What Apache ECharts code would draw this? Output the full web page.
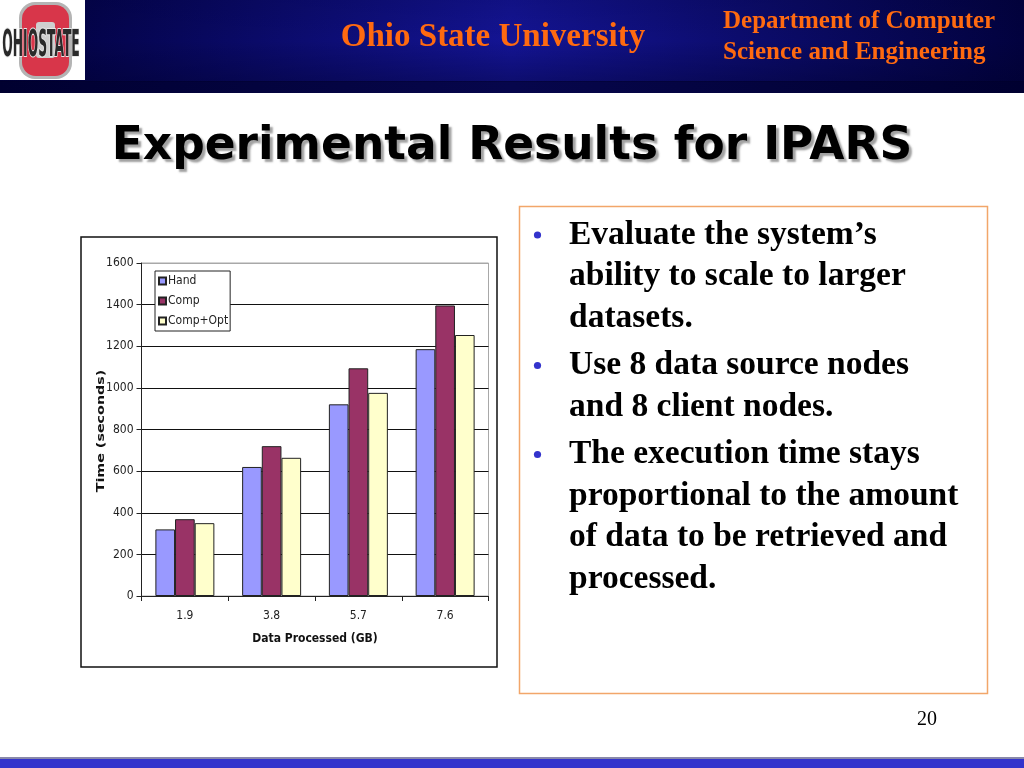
<!DOCTYPE html>
<html>
<head>
<meta charset="utf-8">
<script src="https://cdn.jsdelivr.net/npm/echarts@6/dist/echarts.min.js"></script>
<style>
html,body{margin:0;padding:0;background:#fff;}
#c{width:1024px;height:768px;}
</style>
</head>
<body>
<div id="c"></div>
<script>
// ---- data ----
var categories = ['1.9', '3.8', '5.7', '7.6'];
var seriesNames = ['Hand', 'Comp', 'Comp+Opt'];
var handValues = [320, 620, 921, 1186];
var compValues = [369, 720, 1094, 1396];
var compOptValues = [350, 664, 976, 1254];
var yTicks = { min: 0, max: 1600, interval: 200 };
var headerTitle = 'Ohio State University';
var deptLines = ['Department of Computer', 'Science and Engineering'];
var slideTitle = 'Experimental Results for IPARS';
var yAxisTitle = 'Time (seconds)';
var xAxisTitle = 'Data Processed (GB)';
var bulletLines = [
  ['Evaluate the system\u2019s', 'ability to scale to larger', 'datasets.'],
  ['Use 8 data source nodes', 'and 8 client nodes.'],
  ['The execution time stays', 'proportional to the amount', 'of data to be retrieved and', 'processed.']
];
var pageNumber = '20';

var chart = echarts.init(document.getElementById('c'));
var axisFont = '"Liberation Sans Narrow","DejaVu Sans Condensed",sans-serif';
var serif = '"Liberation Serif","Times New Roman",serif';

// build bullet text graphics
var bulletGraphics = [];
var lineY = 235, lineStep = 41.5, bulletStep = 47.5;
bulletLines.forEach(function (group) {
  bulletGraphics.push({
    type: 'circle', shape: { cx: 537.5, cy: lineY, r: 3.6 }, style: { fill: '#3333CC' }
  });
  group.forEach(function (line, li) {
    bulletGraphics.push({
      type: 'text', x: 569, y: lineY,
      style: { text: line, fill: '#000', font: 'bold 33.5px ' + serif, textVerticalAlign: 'middle' }
    });
    lineY += (li === group.length - 1) ? bulletStep : lineStep;
  });
});

var option = {
  animation: false,
  backgroundColor: '#fff',
  graphic: [
    // header band
    { type: 'rect', shape: { x: 0, y: 0, width: 1024, height: 82 }, z: -10,
      style: { fill: new echarts.graphic.LinearGradient(0, 0, 1, 0, [
        { offset: 0, color: '#00003c' }, { offset: 0.5, color: '#141494' }, { offset: 1, color: '#02023e' }]) } },
    { type: 'rect', shape: { x: 0, y: 0, width: 1024, height: 82 }, z: -9,
      style: { fill: new echarts.graphic.LinearGradient(0, 0, 0, 1, [
        { offset: 0, color: 'rgba(0,0,40,0.15)' }, { offset: 0.5, color: 'rgba(0,0,40,0)' }, { offset: 1, color: 'rgba(0,0,40,0.35)' }]) } },
    { type: 'rect', shape: { x: 0, y: 81, width: 1024, height: 12 }, z: -10,
      style: { fill: new echarts.graphic.LinearGradient(0, 0, 1, 0, [
        { offset: 0, color: '#000030' }, { offset: 0.5, color: '#06064c' }, { offset: 1, color: '#000030' }]) } },
    // logo
    { type: 'rect', shape: { x: 0, y: 0, width: 85, height: 80 }, style: { fill: '#ffffff' } },
    { type: 'rect', shape: { x: 19, y: 2, width: 53, height: 77, r: 16 }, style: { fill: '#b4b4b4' } },
    { type: 'rect', shape: { x: 22, y: 5, width: 47, height: 71, r: 14 }, style: { fill: '#d8364a' } },
    { type: 'rect', shape: { x: 36, y: 22, width: 19, height: 36, r: 3 }, style: { fill: '#cfcfcf' } },
    { type: 'group', x: 41, y: 47, scaleX: 0.98, scaleY: 2.6,
      children: [{ type: 'text', x: 0, y: 0, style: { text: 'OHIOSTATE', fill: '#2a2a2a', stroke: '#e8e8e8', lineWidth: 0.8,
        font: 'bold 14px "DejaVu Sans Condensed",sans-serif', textAlign: 'center', textVerticalAlign: 'middle' } }] },
    // header texts
    { type: 'text', x: 493, y: 37, style: { text: headerTitle, fill: '#FF6A10',
      font: 'bold 33px ' + serif, textAlign: 'center', textVerticalAlign: 'middle' } },
    { type: 'text', x: 723, y: 22, style: { text: deptLines[0], fill: '#FF6A10',
      font: 'bold 25px ' + serif, textVerticalAlign: 'middle' } },
    { type: 'text', x: 723, y: 53, style: { text: deptLines[1], fill: '#FF6A10',
      font: 'bold 25px ' + serif, textVerticalAlign: 'middle' } },
    // slide title
    { type: 'text', x: 512, y: 147, style: { text: slideTitle, fill: '#000',
      font: 'bold 45.5px "DejaVu Sans",sans-serif', textAlign: 'center', textVerticalAlign: 'middle',
      textShadowColor: 'rgba(120,120,120,0.7)', textShadowOffsetX: 3, textShadowOffsetY: 3, textShadowBlur: 2 } },
    // chart frame
    { type: 'rect', shape: { x: 81, y: 237, width: 416, height: 430 }, z: -5,
      style: { fill: '#fff', stroke: '#111', lineWidth: 1.5 } },
    // y axis title (letter-spaced look via horizontal stretch)
    { type: 'group', x: 101, y: 431, rotation: Math.PI / 2,
      children: [{ type: 'text', x: 0, y: 0, scaleX: 1.3,
        style: { text: yAxisTitle, fill: '#111', font: 'bold 11px "DejaVu Sans",sans-serif',
          textAlign: 'center', textVerticalAlign: 'middle' } }] },
    // text box
    { type: 'rect', shape: { x: 519.5, y: 206.5, width: 468, height: 487 }, z: -5,
      style: { fill: '#fff', stroke: '#F2A66A', lineWidth: 1.5 } },
    // page number
    { type: 'text', x: 927, y: 720, style: { text: pageNumber, fill: '#000',
      font: '20px ' + serif, textAlign: 'center', textVerticalAlign: 'middle' } },
    // bottom bar
    { type: 'rect', shape: { x: 0, y: 757, width: 1024, height: 2 }, style: { fill: '#8888aa' } },
    { type: 'rect', shape: { x: 0, y: 759, width: 1024, height: 9 }, style: { fill: '#3333CC' } }
  ].concat(bulletGraphics),
  legend: {
    data: seriesNames,
    orient: 'vertical',
    left: 155, top: 271,
    itemWidth: 7, itemHeight: 7, itemGap: 8,
    padding: [4, 2, 4, 3],
    backgroundColor: '#fff',
    borderColor: '#222', borderWidth: 1,
    icon: 'rect',
    textStyle: { fontFamily: axisFont, fontSize: 12, color: '#222', padding: [0, 0, 0, -3] }
  },
  grid: { left: 141.5, top: 263, width: 347, height: 333, show: true, borderColor: '#a8a8a8', borderWidth: 1, backgroundColor: 'transparent' },
  xAxis: {
    type: 'category', data: categories,
    name: xAxisTitle, nameLocation: 'middle', nameGap: 37,
    nameTextStyle: { fontFamily: axisFont, fontWeight: 'bold', fontSize: 12, color: '#111' },
    axisLine: { lineStyle: { color: '#222', width: 1 } },
    axisTick: { show: true, length: 5, lineStyle: { color: '#222' } },
    axisLabel: { fontFamily: axisFont, fontSize: 12, color: '#222', margin: 14 }
  },
  yAxis: {
    type: 'value', min: yTicks.min, max: yTicks.max, interval: yTicks.interval,
    axisLine: { show: true, lineStyle: { color: '#222', width: 1 } },
    axisTick: { show: true, length: 5, lineStyle: { color: '#222' } },
    axisLabel: { fontFamily: axisFont, fontSize: 12, color: '#222', margin: 8,
      formatter: function (v) { return String(v); } },
    splitLine: { show: true, lineStyle: { color: ['#111', '#111', '#111', '#111', '#111', '#111', '#111', '#111', '#a8a8a8'], width: 1 } }
  },
  series: [
    { name: seriesNames[0], type: 'bar', data: handValues, barGap: '0%', barCategoryGap: '32%',
      itemStyle: { color: '#9999FF', borderColor: '#222', borderWidth: 1 } },
    { name: seriesNames[1], type: 'bar', data: compValues, barGap: '0%', barCategoryGap: '32%',
      itemStyle: { color: '#993366', borderColor: '#222', borderWidth: 1 } },
    { name: seriesNames[2], type: 'bar', data: compOptValues, barGap: '0%', barCategoryGap: '32%',
      itemStyle: { color: '#FFFFCC', borderColor: '#222', borderWidth: 1 } }
  ]
};
chart.setOption(option);
</script>
</body>
</html>
